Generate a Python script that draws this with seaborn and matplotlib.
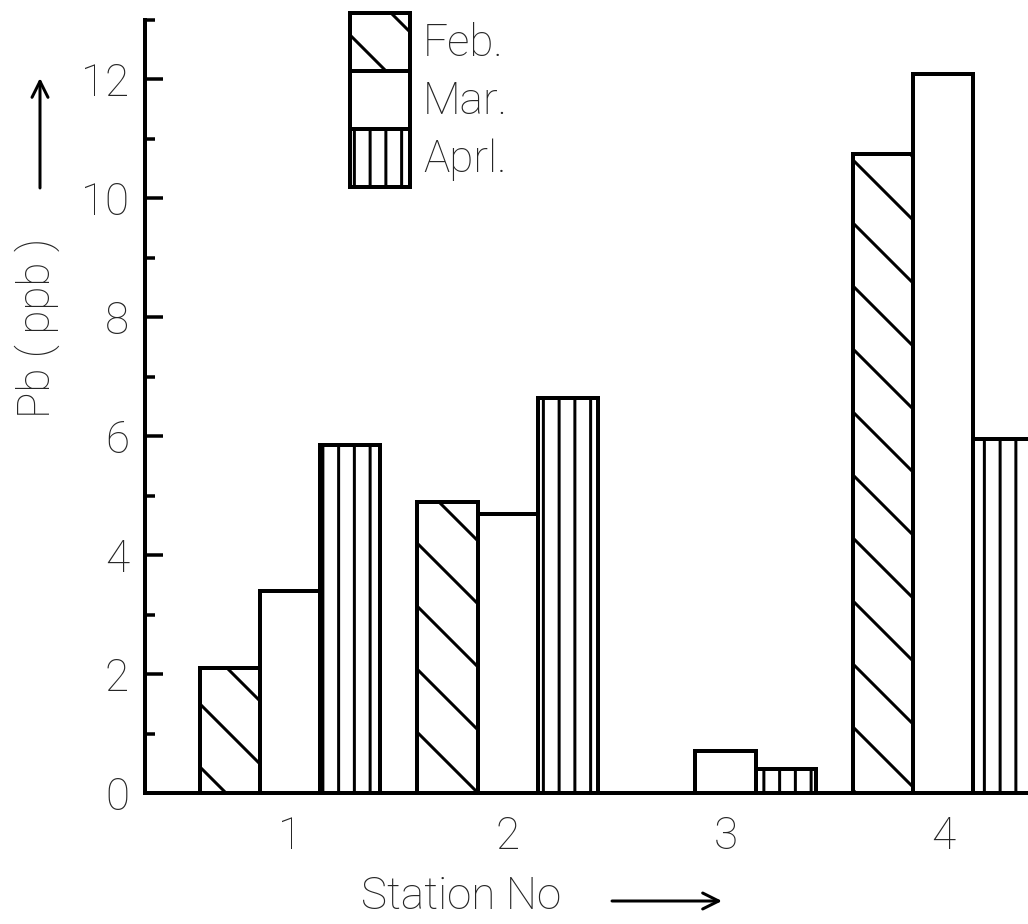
import numpy as np
import pandas as pd
import matplotlib
matplotlib.use("Agg")
import matplotlib.pyplot as plt
import matplotlib.patches as mpatches
import seaborn as sns

# Lead concentration (ppb) per station and month
stations = ["1", "2", "3", "4"]
months = ["Feb.", "Mar.", "Aprl."]
feb = [2.1, 4.9, 0.0, 10.75]
mar = [3.4, 4.7, 0.7, 12.1]
apr = [5.85, 6.65, 0.4, 5.95]
y_major = [0, 2, 4, 6, 8, 10, 12]
y_minor = [1, 3, 5, 7, 9, 11, 13]

# High dpi keeps the hatch lines widely spaced; sizes below are given in pixels
DPI = 378
W, H = 1028, 924


def px(v):
    return v * 72.0 / DPI


df = pd.DataFrame({
    "Station": stations * 3,
    "Month": np.repeat(months, len(stations)),
    "Pb": feb + mar + apr,
})

sns.set_theme(style="white")
plt.rcParams["font.family"] = ["Roboto", "DejaVu Sans"]
plt.rcParams["font.weight"] = "light"
plt.rcParams["axes.labelweight"] = "light"
plt.rcParams["hatch.linewidth"] = px(3)
plt.rcParams["hatch.color"] = "black"

fig = plt.figure(figsize=(W / DPI, H / DPI), dpi=DPI)
fig.patch.set_facecolor("white")
ax = fig.add_axes([145 / W, 1 - 793 / H, (W - 145) / W, (793 - 20) / H])
ax.set_facecolor("white")

sns.barplot(
    data=df, x="Station", y="Pb", hue="Month",
    order=stations, hue_order=months,
    palette={m: "white" for m in months}, saturation=1,
    width=0.83, edgecolor="black", linewidth=px(4),
    legend=False, ax=ax,
)

hatches = ["\\\\", "", "||||"]
for cont, h in zip(ax.containers, hatches):
    for bar in cont:
        bar.set_hatch(h)

ax.set_xlim(-0.666, 3.39)
ax.set_ylim(0, 13)
ax.set_yticks(y_major)
ax.set_yticks(y_minor, minor=True)
ax.set_yticklabels([str(v) for v in y_major])

fs = px(44)
ax.tick_params(axis="y", which="major", direction="in", length=px(18),
               width=px(3.5), pad=px(16), labelsize=fs, left=True, color="black")
ax.tick_params(axis="y", which="minor", direction="in", length=px(10),
               width=px(3.5), left=True, color="black")
ax.tick_params(axis="x", length=0, pad=px(22), labelsize=fs)

for side in ["top", "right"]:
    ax.spines[side].set_visible(False)
for side in ["left", "bottom"]:
    ax.spines[side].set_color("black")
    ax.spines[side].set_linewidth(px(4))

ax.set_ylabel("Pb ( ppb )", fontsize=fs, va="center", fontweight="light")
ax.yaxis.set_label_coords((37 - 145) / (W - 145), (793 - 328) / (793 - 20))
ax.set_xlabel("Station No", fontsize=fs, va="center", fontweight="light")
ax.xaxis.set_label_coords((461 - 145) / (W - 145), (793 - 897) / (793 - 20))

arrow = dict(arrowstyle="->,head_length=0.8,head_width=0.4", lw=px(3),
             color="black", shrinkA=0, shrinkB=0, mutation_scale=px(20))
ax.annotate("", xy=(40 / W, 1 - 78 / H), xytext=(40 / W, 1 - 188 / H),
            xycoords="figure fraction", textcoords="figure fraction",
            arrowprops=arrow)
ax.annotate("", xy=(722 / W, 1 - 901 / H), xytext=(612 / W, 1 - 901 / H),
            xycoords="figure fraction", textcoords="figure fraction",
            arrowprops=arrow)

handles = [mpatches.Patch(facecolor="white", edgecolor="black", hatch=h,
                          linewidth=px(4)) for h in hatches]
fig.legend(handles, months, loc="upper left",
           bbox_to_anchor=(350 / W, 1 - 13 / H), bbox_transform=fig.transFigure,
           frameon=False, fontsize=fs, handlelength=60 / 44, handleheight=1.65,
           labelspacing=0, handletextpad=0.3, borderpad=0, borderaxespad=0)

fig.savefig("out.png", dpi=DPI, facecolor="white")
